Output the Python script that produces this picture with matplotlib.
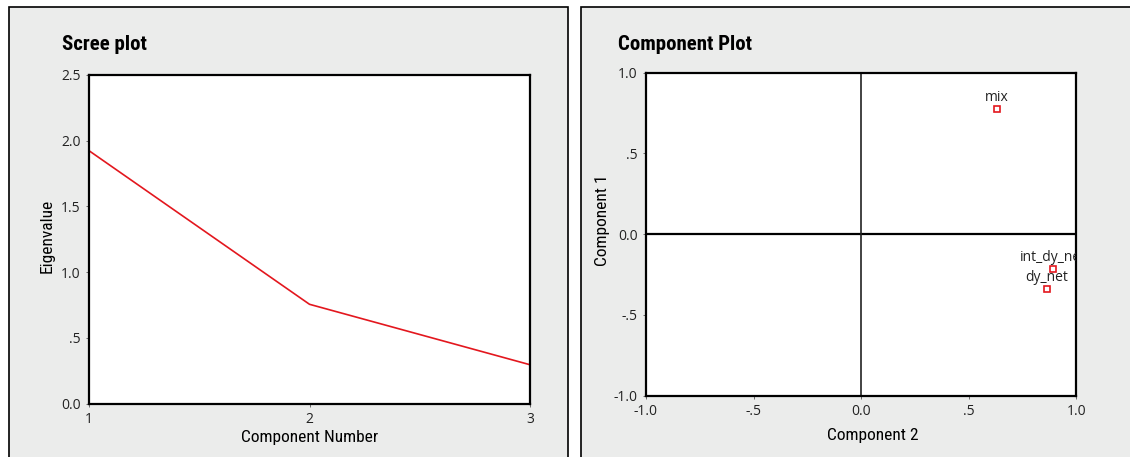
import matplotlib.pyplot as plt
from matplotlib.patches import Rectangle

# scree plot data
components = [1, 2, 3]
eigenvalues = [1.924, 0.755, 0.295]

# component plot (loadings)
var_names = ['mix', 'int_dy_net', 'dy_net']
comp2 = [0.63, 0.89, 0.862]
comp1 = [0.773, -0.214, -0.341]

W, H = 1130, 457
narrow = ['Liberation Sans Narrow', 'DejaVu Sans Condensed', 'Roboto Condensed', 'Roboto']
tickfont = ['Open Sans', 'DejaVu Sans']
panel_bg = '#ebeceb'
red = '#e3171e'

fig = plt.figure(figsize=(W / 100, H / 100), dpi=100)
fig.patch.set_facecolor('white')


def px_rect(x0, y0, x1, y1):
    # pixel box (top-left origin) -> figure fraction [l, b, w, h]
    return [x0 / W, 1 - y1 / H, (x1 - x0) / W, (y1 - y0) / H]


for (x0, x1) in [(8.5, 568), (581, 1150)]:
    l, b, w, h = px_rect(x0, 7, x1, 480)
    fig.patches.append(Rectangle((l, b), w, h, transform=fig.transFigure,
                                 facecolor=panel_bg, edgecolor='black', lw=1.2, zorder=-10))


def style_axes(ax):
    ax.set_facecolor('white')
    for s in ax.spines.values():
        s.set_linewidth(1.6)
        s.set_color('black')
    ax.tick_params(direction='out', length=2, width=0.6, color='#555555', pad=4,
                   labelsize=10)
    for lab in ax.get_xticklabels() + ax.get_yticklabels():
        lab.set_family(tickfont)
        lab.set_color('#222222')


# --- Scree plot
ax1 = fig.add_axes(px_rect(89, 75, 530, 403.5))
ax1.plot(components, eigenvalues, color=red, lw=1.2)
ax1.set_xlim(1, 3)
ax1.set_ylim(0, 2.5)
ax1.set_xticks([1, 2, 3])
ax1.set_xticklabels(['1', '2', '3'])
ax1.set_yticks([0, 0.5, 1.0, 1.5, 2.0, 2.5])
ax1.set_yticklabels(['0.0', '.5', '1.0', '1.5', '2.0', '2.5'])
style_axes(ax1)
ax1.set_xlabel('Component Number', family=narrow, fontsize=12.5, va='center')
ax1.xaxis.set_label_coords(0.5, -0.105)
ax1.set_ylabel('Eigenvalue', family=narrow, fontsize=12.5, va='center')
ax1.yaxis.set_label_coords(-0.096, 0.51)
fig.text(62 / W, 1 - 50 / H, 'Scree plot', family=narrow, fontweight='bold',
         fontsize=15, va='baseline')

# --- Component plot
ax2 = fig.add_axes(px_rect(646, 72.7, 1076.3, 395.7))
ax2.axhline(0, color='black', lw=1.6)
ax2.axvline(0, color='#222222', lw=1.2)
ax2.plot(comp2, comp1, 's', ms=4, mfc='white', mec=red, mew=1.2, ls='none')
for name, x, y in zip(var_names, comp2, comp1):
    ax2.annotate(name, (x, y), xytext=(0, 3), textcoords='offset points',
                 ha='center', va='bottom', fontsize=10, family=tickfont,
                 color='#222222', annotation_clip=False, clip_on=True)
ax2.set_xlim(-1, 1)
ax2.set_ylim(-1, 1)
ticks = [-1.0, -0.5, 0.0, 0.5, 1.0]
tick_labels = ['-1.0', '-.5', '0.0', '.5', '1.0']
ax2.set_xticks(ticks)
ax2.set_xticklabels(tick_labels)
ax2.set_yticks(ticks)
ax2.set_yticklabels(tick_labels)
style_axes(ax2)
ax2.set_xlabel('Component 2', family=narrow, fontsize=12.5, va='center')
ax2.xaxis.set_label_coords(0.528, -0.122)
ax2.set_ylabel('Component 1', family=narrow, fontsize=12.5, va='center')
ax2.yaxis.set_label_coords(-0.102, 0.544)
fig.text(618 / W, 1 - 50 / H, 'Component Plot', family=narrow, fontweight='bold',
         fontsize=15, va='baseline')

fig.savefig('out.png', dpi=100)
